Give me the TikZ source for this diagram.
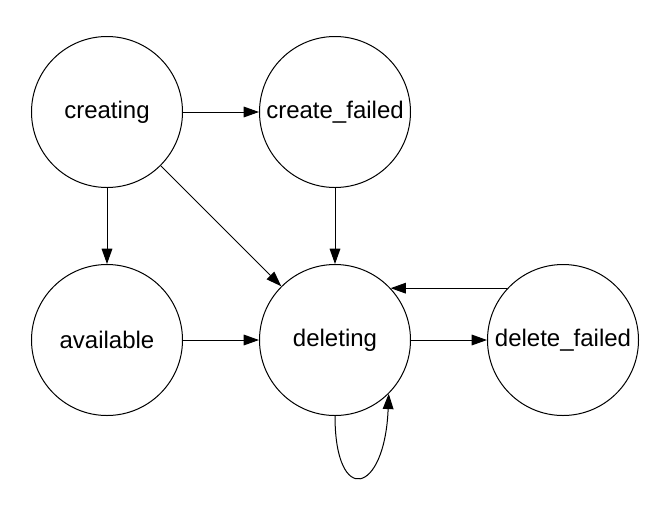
\documentclass[tikz,border=0pt]{standalone}
\usepackage{fontspec}
\setmainfont{Liberation Sans}
\usepackage{tikz}
\usetikzlibrary{shapes.geometric, arrows.meta, positioning}
\tikzstyle{state} = [circle, minimum size=113.25pt, inner sep=0pt, draw=black, line width=0.75pt, font=\fontsize{18}{20}\selectfont]
\tikzstyle{arrow} = [line width=0.75pt,-{Triangle[length=11.5pt,width=8pt]}]

\begin{document}
\begin{tikzpicture}[node distance=57pt]
\useasboundingbox (-80.25pt,84pt) rectangle (422.25pt,-305.25pt);

\node (creating) [state] {creating};

\node (create-failed) [state, right=of creating] {create\_failed};

\node (available) [state, below=of creating] {available};

\node (deleting) [state, right=of available] {deleting};

\node (delete-failed) [state, right=of deleting] {delete\_failed};

% Arrows
\draw [arrow] (creating) -- (create-failed);
\draw [arrow] (creating) -- (available);
\draw [arrow] (creating) -- (deleting);
\draw [arrow] (create-failed) -- (deleting);
\draw [arrow] (available) -- (deleting);
\draw [arrow] (deleting) -- (delete-failed);
\draw [arrow] (delete-failed.137) -- (deleting.43);
\draw [arrow] (deleting.270) .. controls +(0,-68pt) and +(-3pt,-76pt) .. (deleting.-45);

\end{tikzpicture}
\end{document}
